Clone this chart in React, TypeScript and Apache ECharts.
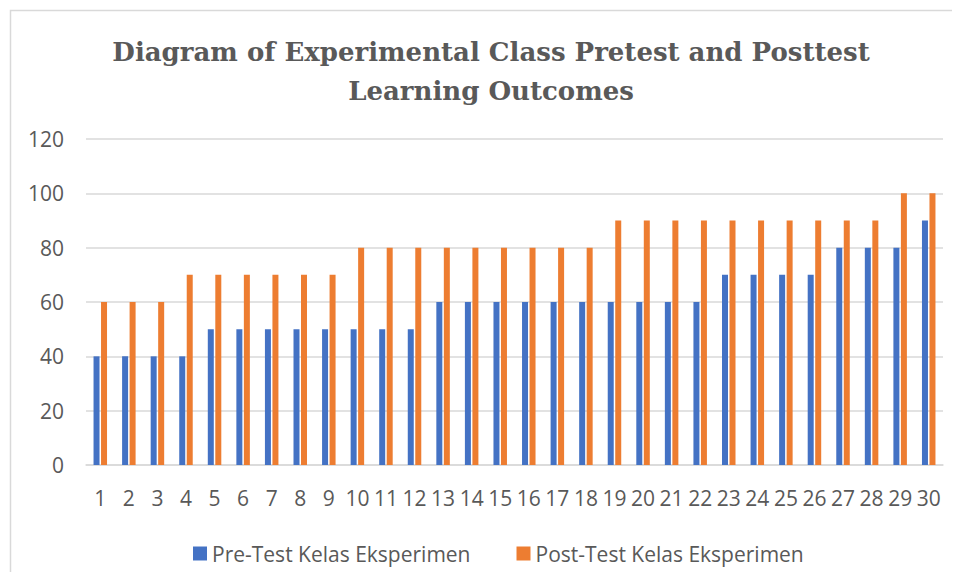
import React, { useEffect, useRef } from "react";
import * as echarts from "echarts";

const categories = Array.from({ length: 30 }, (_, i) => String(i + 1));
const preTest = [40, 40, 40, 40, 50, 50, 50, 50, 50, 50, 50, 50, 60, 60, 60, 60, 60, 60, 60, 60, 60, 60, 70, 70, 70, 70, 80, 80, 80, 90];
const postTest = [60, 60, 60, 70, 70, 70, 70, 70, 70, 80, 80, 80, 80, 80, 80, 80, 80, 80, 90, 90, 90, 90, 90, 90, 90, 90, 90, 90, 100, 100];
const seriesNames = ["Pre-Test Kelas Eksperimen", "Post-Test Kelas Eksperimen"];
const titleText = "Diagram of Experimental Class Pretest and Posttest\nLearning Outcomes";

export default function App() {
  const ref = useRef<HTMLDivElement>(null);
  useEffect(() => {
    if (!ref.current) return;
    const chart = echarts.init(ref.current, undefined, { renderer: "svg" });
    const labelFont = "'Open Sans', Lato, sans-serif";
    chart.setOption({
      animation: false,
      backgroundColor: "#ffffff",
      graphic: [
        {
          type: "rect",
          shape: { x: 10.5, y: 10.5, width: 960, height: 600 },
          style: { fill: "none", stroke: "#d9d9d9", lineWidth: 1.5 },
          silent: true,
        },
      ],
      title: {
        text: titleText,
        left: 486,
        textAlign: "center",
        top: 27,
        textStyle: {
          fontFamily: "'DejaVu Serif', 'Liberation Serif', serif",
          fontWeight: "bold",
          fontSize: 26,
          lineHeight: 39,
          color: "#595959",
        },
      },
      legend: {
        data: seriesNames,
        top: 538,
        left: 188,
        itemWidth: 14,
        itemHeight: 14,
        itemGap: 46,
        icon: "rect",
        textStyle: { fontFamily: labelFont, fontSize: 21, color: "#595959" },
      },
      grid: { left: 86, right: 17, top: 139, bottom: 115, containLabel: false },
      xAxis: {
        type: "category",
        data: categories,
        axisLine: { lineStyle: { color: "#d9d9d9", width: 1.5 } },
        axisTick: { show: false },
        axisLabel: { fontFamily: labelFont, fontSize: 21, color: "#595959", margin: 22, interval: 0 },
      },
      yAxis: {
        type: "value",
        min: 0,
        max: 120,
        interval: 20,
        axisLine: { show: false },
        axisTick: { show: false },
        splitLine: { lineStyle: { color: "#d9d9d9", width: 1.5 } },
        axisLabel: { fontFamily: labelFont, fontSize: 21, color: "#595959", margin: 22 },
      },
      series: [
        {
          name: seriesNames[0],
          type: "bar",
          data: preTest,
          barWidth: 6,
          barGap: "25%",
          itemStyle: { color: "#4472C4" },
        },
        {
          name: seriesNames[1],
          type: "bar",
          data: postTest,
          barWidth: 6,
          itemStyle: { color: "#ED7D31" },
        },
      ],
    });
    return () => chart.dispose();
  }, []);
  return <div ref={ref} style={{ width: 960, height: 580, margin: -8 }} />;
}
